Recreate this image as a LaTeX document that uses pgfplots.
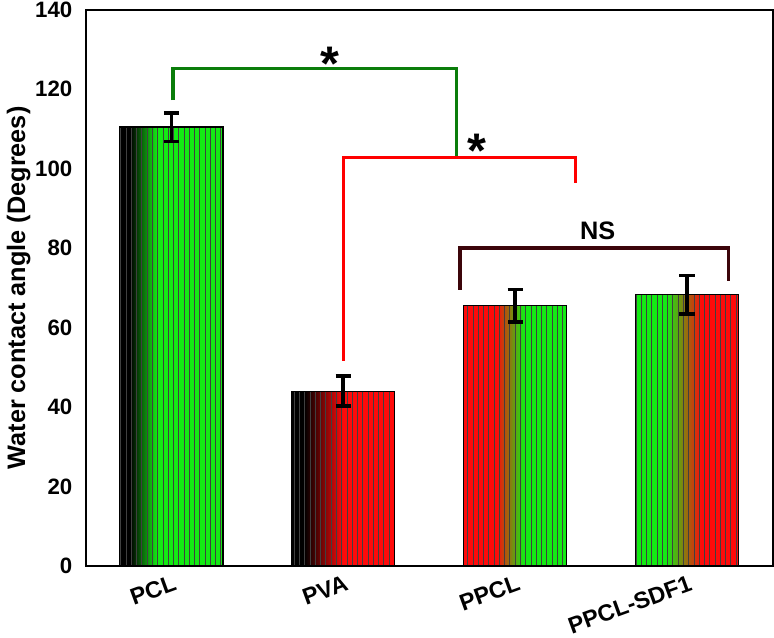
\documentclass[border=0pt]{standalone}
\usepackage{pgfplots}
\pgfplotsset{compat=1.18}
\usepackage{fontspec}
\setmainfont{Liberation Sans}
\usetikzlibrary{patterns.meta}
\definecolor{bgreen}{RGB}{20,235,20}
\definecolor{bred}{RGB}{255,10,10}
\definecolor{sgreen}{RGB}{10,125,10}
\definecolor{nsbrown}{RGB}{60,5,10}
\pgfdeclarehorizontalshading{pclsh}{100bp}{color(0bp)=(black); color(30bp)=(black); color(43bp)=(bgreen); color(100bp)=(bgreen)}
\pgfdeclarehorizontalshading{pvash}{100bp}{color(0bp)=(black); color(31bp)=(black); color(50bp)=(bred); color(100bp)=(bred)}
\pgfdeclarehorizontalshading{ppclsh}{100bp}{color(0bp)=(bred); color(41bp)=(bred); color(54bp)=(bgreen); color(100bp)=(bgreen)}
\pgfdeclarehorizontalshading{sdfsh}{100bp}{color(0bp)=(bgreen); color(40bp)=(bgreen); color(57bp)=(bred); color(100bp)=(bred)}
\pgfplotsset{
  shadebar/.style={ybar, bar width=0.6, bar shift=0pt, draw=none, shading=#1, shade},
  stripebar/.style={ybar, bar width=0.6, bar shift=0pt, draw=black, line width=0.6pt, forget plot,
    pattern color=black!75, pattern={Lines[angle=90,distance=2.6pt,line width=0.45pt]}}
}
\begin{document}
\begin{tikzpicture}
\begin{axis}[
  scale only axis,
  width=340pt, height=275pt,
  xmin=-0.5, xmax=3.5, ymin=0, ymax=140,
  ytick={0,20,...,140},
  xtick={0,1,2,3},
  xticklabels={PCL,PVA,PPCL,PPCL-SDF1},
  major tick length=0pt,
  axis line style={line width=1pt},
  /pgf/number format/assume math mode=true,
  tick label style={font=\fontsize{11}{13}\selectfont\bfseries},
  yticklabel style={xshift=-3pt, inner ysep=1pt},
  xticklabel style={font=\fontsize{11.5}{13}\selectfont\bfseries, rotate=20, anchor=north east, yshift=-3pt, xshift=0pt, inner sep=1pt},
  ylabel={Water contact angle (Degrees)},
  ylabel style={font=\fontsize{12.5}{14}\selectfont\bfseries, yshift=-4.5pt},
  clip=false,
]
\addplot[shadebar=pclsh] coordinates {(0,110.5)};
\addplot[shadebar=pvash] coordinates {(1,44)};
\addplot[shadebar=ppclsh] coordinates {(2,65.5)};
\addplot[shadebar=sdfsh] coordinates {(3,68.3)};
\addplot[stripebar] coordinates {(0,110.5) (1,44) (2,65.5) (3,68.3)};
% error bars
\addplot[draw=none, mark=none, forget plot,
  error bars/.cd, y dir=both, y explicit,
  error bar style={line width=1.8pt, black},
  error mark options={rotate=90, mark size=3.8pt, line width=1.8pt, black}]
  coordinates {(0,110.5) +- (0,3.6) (1,44) +- (0,3.8) (2,65.5) +- (0,4.1) (3,68.3) +- (0,4.8)};
% significance brackets
\addplot[sgreen, line width=1.7pt, sharp plot, mark=none, forget plot] coordinates {(0.01,117.3) (0.01,125.2) (1.66,125.2) (1.66,102.9)};
\addplot[red, line width=1.7pt, sharp plot, mark=none, forget plot] coordinates {(1.0,51.7) (1.0,102.9) (2.35,102.9) (2.35,96.3)};
\addplot[nsbrown, line width=1.7pt, sharp plot, mark=none, forget plot] coordinates {(1.68,69.5) (1.68,80) (3.24,80) (3.24,71.7)};
\node[font=\fontsize{24}{24}\selectfont\bfseries] at (axis cs:0.92,126.3) {*};
\node[font=\fontsize{24}{24}\selectfont\bfseries] at (axis cs:1.78,104.6) {*};
\node[font=\fontsize{12.5}{13}\selectfont\bfseries] at (axis cs:2.48,84.3) {NS};
\end{axis}
\end{tikzpicture}
\end{document}
